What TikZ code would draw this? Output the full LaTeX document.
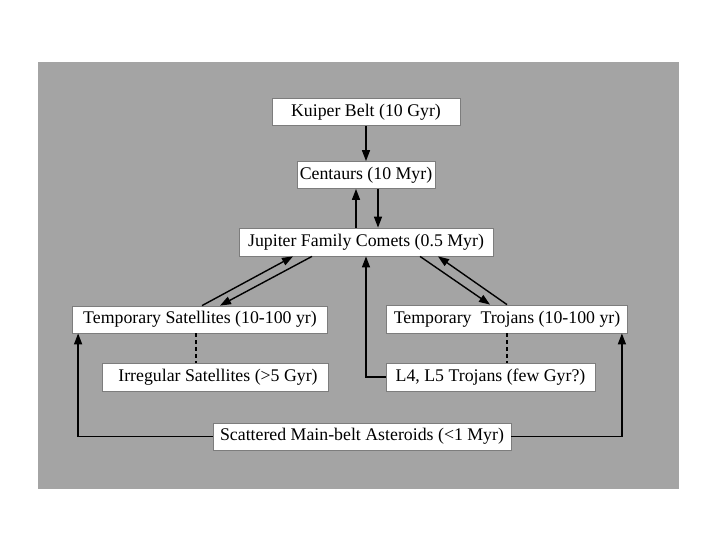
\documentclass[tikz,border=0pt]{standalone}
\usepackage{fontspec}
\setmainfont{Liberation Serif}
\usetikzlibrary{arrows.meta,calc}
\definecolor{panelgrey}{RGB}{164,164,164}
\definecolor{edgegrey}{RGB}{125,125,125}

\begin{document}
\begin{tikzpicture}[
    x=1pt, y=-1pt,
    box/.style={draw=edgegrey,fill=white,line width=0.8pt,inner sep=0pt,
        font=\fontsize{17.8}{20}\selectfont},
    flow/.style={line width=1.4pt,-{Triangle[length=11pt,width=8pt]}},
    link/.style={line width=1.3pt,dash pattern=on 4pt off 3pt}
]

\useasboundingbox (0,0) rectangle (717,554);
\fill[panelgrey] (38,62) rectangle (679,489);

\node[box,minimum width=188pt,minimum height=27pt] (kuiper) at (366,112) {Kuiper Belt (10 Gyr)};
\node[box,minimum width=138pt,minimum height=27pt] (centaurs) at (366,175) {Centaurs (10 Myr)};
\node[box,minimum width=254pt,minimum height=28pt] (jfc) at (366,242) {Jupiter Family Comets (0.5 Myr)};
\node[box,minimum width=255pt,minimum height=27pt] (tempsat) at (200,319.5) {Temporary Satellites (10-100 yr)};
\node[box,minimum width=226pt,minimum height=28pt] (irregular) at (215,377) {\hspace*{6pt}Irregular Satellites (>5 Gyr)};
\node[box,minimum width=241pt,minimum height=28pt] (temptroj) at (507,319) {Temporary\ \ Trojans (10-100 yr)};
\node[box,minimum width=209pt,minimum height=28pt] (lagrange) at (490.5,377) {L4, L5 Trojans (few Gyr?)};
\node[box,minimum width=298pt,minimum height=27pt] (scattered) at (362,436.5) {Scattered Main-belt Asteroids (<1 Myr)};

% outer belt feeding inwards
\draw[flow] (kuiper) -- (centaurs);
\draw[flow] ([xshift=-10pt]centaurs.south |- jfc.north) -- ([xshift=-10pt]centaurs.south);
\draw[flow] ([xshift=12pt]centaurs.south) -- ([xshift=12pt]centaurs.south |- jfc.north);

% temporary captures
\draw[flow] ([xshift=2pt]tempsat.north) -- ([xshift=-73pt]jfc.south);
\draw[flow] ([xshift=-54pt]jfc.south) -- ([xshift=20pt]tempsat.north);
\draw[flow] ([xshift=54pt]jfc.south) -- ([xshift=-17pt]temptroj.north);
\draw[flow] (temptroj.north) -- ([xshift=72pt]jfc.south);

\draw[link] ([xshift=-4pt]tempsat.south) -- ([xshift=-4pt]tempsat.south |- irregular.north);
\draw[link] (temptroj.south) -- (temptroj.south |- lagrange.north);

% escapes
\draw[flow] (lagrange.west) -| (jfc.south);
\draw[flow] (scattered.west) -| ([xshift=6pt]tempsat.south west);
\draw[flow] (scattered.east) -| ([xshift=-6pt]temptroj.south east);

\end{tikzpicture}
\end{document}
